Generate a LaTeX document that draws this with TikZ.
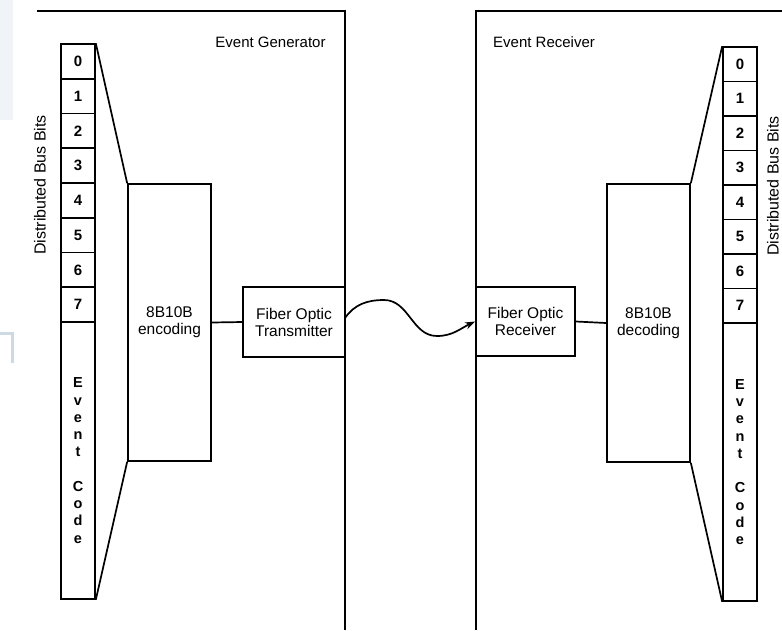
\documentclass[tikz,border=0pt]{standalone}
\usepackage{fontspec}
\setmainfont{Liberation Sans}
\usetikzlibrary{arrows.meta}
\definecolor{faintbg}{RGB}{240,244,248}
\definecolor{faintline}{RGB}{205,217,228}
\tikzset{
  box/.style={draw, line width=1.7pt, inner sep=0pt, align=center, font=\fontsize{15.5}{17}\selectfont},
  cell/.style={draw, line width=1.6pt, inner sep=0pt, minimum width=34pt, font=\bfseries\fontsize{15}{15}\selectfont},
  codecell/.style={draw, line width=1.6pt, inner sep=0pt, minimum width=34pt, align=center, font=\bfseries\fontsize{14.5}{17.3}\selectfont},
  panel/.style={line width=1.4pt},
  trap/.style={line width=1.7pt},
  lbl/.style={inner sep=0pt, font=\fontsize{15}{17}\selectfont},
  buslbl/.style={inner sep=0pt, rotate=90, font=\fontsize{16}{17}\selectfont},
  fiber/.style={line width=1.7pt, -{Stealth[length=10pt,width=7pt]}}
}
\begin{document}
\begin{tikzpicture}[x=1pt,y=-1pt]
\useasboundingbox (0,0) rectangle (782,630);
\clip (0,0) rectangle (782,630);
% faint scan artefacts
\fill[faintbg] (0,0) rectangle (13,120);
\draw[faintline, line width=3pt] (0,333) -- (12,333) -- (12,363);

% panels
\draw[panel] (37,11) -- (345,11) -- (345,630);
\draw[panel] (782,11) -- (476,11) -- (476,630);
\node[lbl] (gen) at (270.5,42) {Event Generator};
\node[lbl, anchor=west] (rec) at (493,42) {Event Receiver};

% left bus column
\foreach \i in {0,...,7}{
  \node[cell, minimum height=34.75pt] (L\i) at (78,{44+34.75*\i+17.375}) {\i};
}
\node[codecell, minimum height=277pt] (LE) at (78,460.5) {E\\v\\e\\n\\t\\[17pt]C\\o\\d\\e};
\node[buslbl] (lbus) at (40,185) {Distributed Bus Bits};

% right bus column
\foreach \i in {0,...,7}{
  \node[cell, minimum height=34.5pt] (R\i) at (740,{47+34.5*\i+17.25}) {\i};
}
\node[codecell, minimum height=278pt] (RE) at (740,462) {E\\v\\e\\n\\t\\[17pt]C\\o\\d\\e};
\node[buslbl] (rbus) at (773,186) {Distributed Bus Bits};

% coding boxes
\node[box, minimum width=83pt, minimum height=277pt] (enc) at (169.5,322.5) {8B10B\\encoding};
\node[box, minimum width=83pt, minimum height=278pt] (dec) at (648.5,323) {8B10B\\decoding};

% optical boxes
\node[box, minimum width=102pt, minimum height=70pt] (tx) at (294,322) {Fiber Optic\\Transmitter};
\node[box, minimum width=99pt, minimum height=69pt] (rx) at (525.5,321.5) {Fiber Optic\\Receiver};

% trapezoid fan lines
\draw[trap] (L0.north east) -- (enc.north west);
\draw[trap] (LE.south east) -- (enc.south west);
\draw[trap] (dec.north east) -- (R0.north west);
\draw[trap] (dec.south east) -- (RE.south west);

% links
\draw[trap] (enc.east) -- (tx.west);
\draw[trap] (rx.east) -- (dec.west);

% fiber
\coordinate (fstart) at (345,318);
\coordinate (peak) at (384,300);
\coordinate (trough) at (437,336);
\draw[fiber] (fstart) to[out=55,in=180] (peak) to[out=0,in=180] (trough) to[out=0,in=205] (rx.west);
\end{tikzpicture}
\end{document}
